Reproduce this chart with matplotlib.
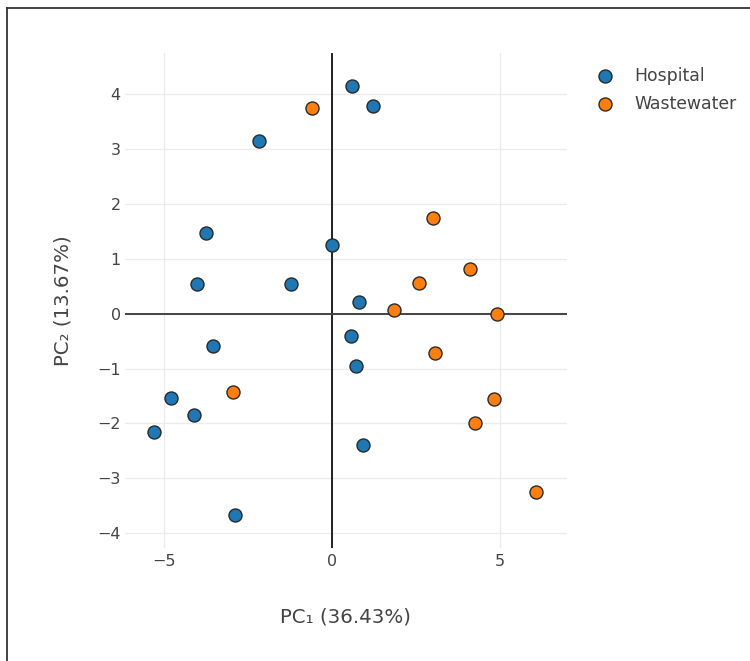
import matplotlib
matplotlib.use("Agg")
import matplotlib.pyplot as plt
from matplotlib.lines import Line2D

# ---- data ----
series_names = ["Hospital", "Wastewater"]
hospital_pc1 = [0.60, 1.21, -2.16, -3.74, -0.01, -4.01, -1.23, 0.80, 0.56, -3.55,
                0.71, -4.80, -4.10, -5.29, 0.92, -2.88]
hospital_pc2 = [4.15, 3.78, 3.14, 1.47, 1.25, 0.54, 0.54, 0.22, -0.41, -0.58,
                -0.95, -1.54, -1.85, -2.15, -2.39, -3.67]
wastewater_pc1 = [-0.59, 3.01, 4.11, 2.59, 1.84, 4.93, 3.07, -2.93, 4.83, 4.26, 6.09]
wastewater_pc2 = [3.75, 1.75, 0.82, 0.55, 0.06, -0.01, -0.72, -1.43, -1.55, -1.99, -3.25]
x_ticks = [-5, 0, 5]
y_ticks = [-4, -3, -2, -1, 0, 1, 2, 3, 4]
x_title = "PC\u2081 (36.43%)"
y_title = "PC\u2082 (13.67%)"

colors = ["#1f77b4", "#ff7f0e"]
text_color = "#444444"

plt.rcParams["font.family"] = ["DejaVu Sans"]

W, H = 750, 661
fig = plt.figure(figsize=(W / 100, H / 100), dpi=100)
fig.patch.set_facecolor("white")

# plot area in pixels
px_l, px_r, px_t, px_b = 125, 567, 53, 548
ax = fig.add_axes([px_l / W, 1 - px_b / H, (px_r - px_l) / W, (px_b - px_t) / H])
ax.set_xlim(-6.16, 7.0)
ax.set_ylim(-4.27, 4.75)

for s in ax.spines.values():
    s.set_visible(False)
ax.set_xticks(x_ticks)
ax.set_yticks(y_ticks)
ax.set_xticklabels(["\u22125", "0", "5"])
ax.set_yticklabels([("\u2212" + str(-v)) if v < 0 else str(v) for v in y_ticks])
ax.tick_params(axis="both", length=0, labelsize=11.5, labelcolor=text_color)
ax.tick_params(axis="x", pad=4)
ax.tick_params(axis="y", pad=3)
ax.grid(True, color="#ebebeb", linewidth=1.0)
ax.set_axisbelow(True)

ax.axvline(0, color="#222222", linewidth=1.4, zorder=1.5)
ax.axhline(0, color="#444444", linewidth=1.4, zorder=1.5)

ms = 88
h1 = ax.scatter(hospital_pc1, hospital_pc2, s=ms, c=colors[0], edgecolors="#2a2a2a",
                linewidths=1.0, zorder=3, label=series_names[0])
h2 = ax.scatter(wastewater_pc1, wastewater_pc2, s=ms, c=colors[1], edgecolors="#2a2a2a",
                linewidths=1.0, zorder=3, label=series_names[1])

leg = fig.legend(handles=[h1, h2], labels=series_names, loc="upper left",
                 bbox_to_anchor=(588 / W, 1 - 58 / H), frameon=False,
                 fontsize=12.4, labelcolor=text_color, handletextpad=1.19,
                 labelspacing=0.58, borderpad=0, handlelength=1.0, scatterpoints=1)

fig.text(345 / W, 1 - 617 / H, x_title, ha="center", va="center", fontsize=14.2,
         color=text_color)
fig.text(63 / W, 1 - 301 / H, y_title, ha="center", va="center", fontsize=14.2,
         color=text_color, rotation=90)

# outer frame (left and top edges)
fig.add_artist(Line2D([7 / W, 7 / W], [0, 1 - 8 / H], transform=fig.transFigure,
                      color="#333333", linewidth=1.3))
fig.add_artist(Line2D([7 / W, 1], [1 - 8 / H, 1 - 8 / H], transform=fig.transFigure,
                      color="#333333", linewidth=1.3))

fig.savefig("out.png", dpi=100)
